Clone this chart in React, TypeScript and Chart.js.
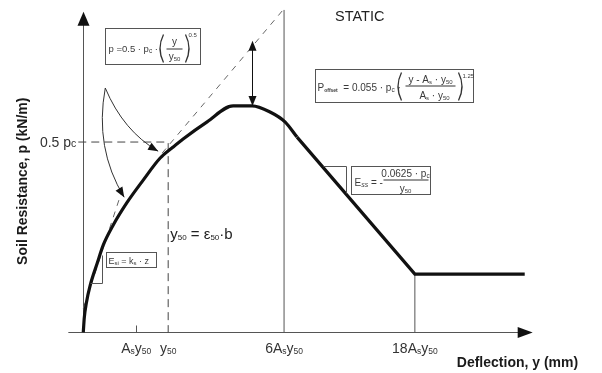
import React, { useEffect, useRef } from 'react';
import { Chart, registerables } from 'chart.js';

Chart.register(...registerables);

// Deflection is measured in multiples of y50, soil resistance in multiples of pc.
const CURVE_Y = [0, 0.012, 0.035, 0.082, 0.165, 0.235, 0.353, 0.518, 0.706, 0.906, 1.059, 1.176, 1.459, 1.765, 1.988, 2.2, 2.376, 2.518];
const CURVE_P = [0, 0.039, 0.076, 0.124, 0.182, 0.229, 0.282, 0.342, 0.4, 0.458, 0.487, 0.508, 0.553, 0.595, 0.595, 0.579, 0.553, 0.513];

// Linear softening branch and residual plateau
const TAIL_Y = [2.518, 3.906, 5.2];
const TAIL_P = [0.513, 0.153, 0.153];

// Parabola p = 0.5·pc·(y/y50)^0.5 continued as a dashed guide
const PARABOLA_Y = [0, 0.447, 0.7, 0.929, 2.353];
const PARABOLA_P = [0.063, 0.366, null, 0.471, 0.847];

const HALF_PC = 0.5;
const Y50 = 1;
const Y_6AS = 2.365;
const Y_18AS = 3.906;
const PARABOLA_TOP = 0.847;
const RESIDUAL_P = 0.153;
const OFFSET_AT = 1.988;
const OFFSET_FROM = 0.766;
const OFFSET_TO = 0.595;

const TICK_Y = [0.624, 1, 2.365, 3.906];
// even entries normal size, odd entries subscript
const TICK_LABELS = [
  ['A', 's', 'y', '50'],
  ['y', '50'],
  ['6A', 's', 'y', '50'],
  ['18A', 's', 'y', '50'],
];

const FONT = '"Liberation Sans", Arial, Helvetica, sans-serif';

type Part = { t: string; s: number; dy?: number; w?: string; st?: string };

function fontOf(p: Part) {
  return [p.st, p.w, `${p.s}px`, FONT].filter(Boolean).join(' ');
}

function rich(ctx: CanvasRenderingContext2D, x: number, y: number, parts: Part[], align: 'left' | 'center' | 'right' = 'left') {
  let total = 0;
  const widths = parts.map((p) => {
    ctx.font = fontOf(p);
    const w = ctx.measureText(p.t).width;
    total += w;
    return w;
  });
  let cx = align === 'center' ? x - total / 2 : align === 'right' ? x - total : x;
  ctx.textAlign = 'left';
  ctx.textBaseline = 'alphabetic';
  parts.forEach((p, i) => {
    ctx.font = fontOf(p);
    ctx.fillText(p.t, cx, y + (p.dy || 0));
    cx += widths[i];
  });
  return total;
}

function head(ctx: CanvasRenderingContext2D, tx: number, ty: number, fx: number, fy: number, len: number, half: number) {
  const a = Math.atan2(ty - fy, tx - fx);
  const bx = tx - Math.cos(a) * len;
  const by = ty - Math.sin(a) * len;
  ctx.beginPath();
  ctx.moveTo(tx, ty);
  ctx.lineTo(bx + Math.sin(a) * half, by - Math.cos(a) * half);
  ctx.lineTo(bx - Math.sin(a) * half, by + Math.cos(a) * half);
  ctx.closePath();
  ctx.fill();
}

function paren(ctx: CanvasRenderingContext2D, x: number, top: number, bottom: number, dir: number) {
  ctx.beginPath();
  ctx.moveTo(x, top);
  ctx.quadraticCurveTo(x + dir * 7, (top + bottom) / 2, x, bottom);
  ctx.stroke();
}

const diagram = {
  id: 'pyDiagram',
  beforeDatasetsDraw(chart: any) {
    const ctx: CanvasRenderingContext2D = chart.ctx;
    const X = (v: number) => chart.scales.x.getPixelForValue(v);
    const Y = (v: number) => chart.scales.y.getPixelForValue(v);
    const ox = Math.round(X(0)) + 0.5;
    const oy = Math.round(Y(0)) + 0.5;
    ctx.save();
    ctx.strokeStyle = '#555';
    ctx.fillStyle = '#111';
    ctx.lineWidth = 1;
    // vertical axis with arrow
    ctx.beginPath();
    ctx.moveTo(ox, oy);
    ctx.lineTo(ox, Y(0.842) + 4);
    ctx.stroke();
    head(ctx, ox, Y(0.842), ox, oy, 14, 6);
    // horizontal axis with arrow
    ctx.beginPath();
    ctx.moveTo(X(-0.176), oy);
    ctx.lineTo(X(5.294) - 4, oy);
    ctx.stroke();
    head(ctx, X(5.294), oy, ox, oy, 15, 5.5);
    // small tick at As·y50
    const tx = Math.round(X(TICK_Y[0])) + 0.5;
    ctx.beginPath();
    ctx.moveTo(tx, oy);
    ctx.lineTo(tx, oy - 7);
    ctx.stroke();
    ctx.restore();
  },
  afterDatasetsDraw(chart: any) {
    const ctx: CanvasRenderingContext2D = chart.ctx;
    const X = (v: number) => chart.scales.x.getPixelForValue(v);
    const Y = (v: number) => chart.scales.y.getPixelForValue(v);
    const area = chart.chartArea;
    ctx.save();

    // tick labels
    ctx.fillStyle = '#333';
    TICK_Y.forEach((v, i) => {
      const parts: Part[] = TICK_LABELS[i].map((t, k) => (k % 2 === 0 ? { t, s: 14 } : { t, s: 8.5, dy: 1 }));
      rich(ctx, X(v), Y(0) + 21, parts, 'center');
    });

    // 0.5 pc label
    rich(ctx, X(-0.082), Y(HALF_PC) + 5, [{ t: '0.5 p', s: 14 }, { t: 'c', s: 10.5 }], 'right');

    // axis titles
    ctx.fillStyle = '#1a1a1a';
    rich(ctx, X(4.4), Y(0) + 35, [{ t: 'Deflection, y (mm)', s: 14, w: 'bold' }]);
    ctx.save();
    ctx.translate(area.left - 41, Y(0.397));
    ctx.rotate(-Math.PI / 2);
    rich(ctx, 0, 0, [{ t: 'Soil Resistance, p (kN/m)', s: 14, w: 'bold' }], 'center');
    ctx.restore();

    // STATIC
    ctx.fillStyle = '#222';
    rich(ctx, X(2.965), Y(0.818), [{ t: 'STATIC', s: 14.5 }]);

    // y50 definition
    ctx.fillStyle = '#222';
    rich(ctx, X(1.024), Y(0.245), [
      { t: 'y', s: 15 },
      { t: '50', s: 8, dy: 1 },
      { t: ' = ε', s: 15 },
      { t: '50', s: 8, dy: 1 },
      { t: '·b', s: 15 },
    ]);

    // slope triangles
    ctx.strokeStyle = '#555';
    ctx.lineWidth = 1;
    const tri = (u1: number, u2: number, vTop: number, vBot: number, flatAtTop: boolean) => {
      const x1 = Math.round(X(u1)) + 0.5, x2 = Math.round(X(u2)) + 0.5;
      const y1 = Math.round(Y(vTop)) + 0.5, y2 = Math.round(Y(vBot)) + 0.5;
      ctx.beginPath();
      if (flatAtTop) {
        ctx.moveTo(x1, y1); ctx.lineTo(x2, y1); ctx.lineTo(x2, y2);
      } else {
        ctx.moveTo(x2, y1); ctx.lineTo(x2, y2); ctx.lineTo(x1, y2);
      }
      ctx.stroke();
    };
    tri(0.082, 0.224, 0.203, 0.129, false);
    tri(2.824, 3.094, 0.437, 0.366, true);

    // formula boxes
    const box = (u: number, v: number, w: number, h: number) => {
      const x = Math.round(X(u)) + 0.5, y = Math.round(Y(v)) + 0.5;
      ctx.strokeStyle = '#555';
      ctx.lineWidth = 1;
      ctx.strokeRect(x, y, w, h);
      return [x, y];
    };
    ctx.fillStyle = '#3a3a3a';

    // p = 0.5·pc·(y/y50)^0.5
    let [bx, by] = box(0.259, 0.8, 95, 36);
    rich(ctx, bx + 3, by + 23, [{ t: 'p =0.5 · p', s: 9.5 }, { t: 'c', s: 6.5, dy: 1 }, { t: ' ·', s: 9.5 }]);
    ctx.strokeStyle = '#333';
    ctx.lineWidth = 1.3;
    paren(ctx, bx + 58, by + 6, by + 34, -1);
    paren(ctx, bx + 80, by + 6, by + 34, 1);
    rich(ctx, bx + 69, by + 16, [{ t: 'y', s: 10 }], 'center');
    ctx.lineWidth = 1;
    ctx.beginPath(); ctx.moveTo(bx + 61, by + 20.5); ctx.lineTo(bx + 77, by + 20.5); ctx.stroke();
    rich(ctx, bx + 69, by + 31, [{ t: 'y', s: 10 }, { t: '50', s: 6, dy: 1 }], 'center');
    rich(ctx, bx + 83, by + 8, [{ t: '0.5', s: 6 }]);

    // P offset
    [bx, by] = box(2.729, 0.692, 158, 33);
    rich(ctx, bx + 2, by + 21, [
      { t: 'P', s: 10 }, { t: 'offset', s: 5, dy: 1, w: 'bold' },
      { t: '  = 0.055 · p', s: 10 }, { t: 'c', s: 6.5, dy: 1 }, { t: ' ·', s: 10 },
    ]);
    ctx.strokeStyle = '#333';
    ctx.lineWidth = 1.3;
    paren(ctx, bx + 86, by + 3, by + 31, -1);
    paren(ctx, bx + 143, by + 3, by + 31, 1);
    rich(ctx, bx + 115, by + 13, [{ t: 'y - A', s: 10 }, { t: 's', s: 6, dy: 1 }, { t: ' · y', s: 10 }, { t: '50', s: 6, dy: 1 }], 'center');
    ctx.lineWidth = 1;
    ctx.beginPath(); ctx.moveTo(bx + 90, by + 16.5); ctx.lineTo(bx + 140, by + 16.5); ctx.stroke();
    rich(ctx, bx + 119, by + 29, [{ t: 'A', s: 10 }, { t: 's', s: 6, dy: 1 }, { t: ' · y', s: 10 }, { t: '50', s: 6, dy: 1 }], 'center');
    rich(ctx, bx + 147, by + 8, [{ t: '1.25', s: 6 }]);

    // Ess
    [bx, by] = box(3.153, 0.437, 79, 28);
    rich(ctx, bx + 3, by + 19, [{ t: 'E', s: 10 }, { t: 'ss', s: 7, dy: 1, st: 'italic' }, { t: ' = -', s: 10 }]);
    rich(ctx, bx + 54, by + 10, [{ t: '0.0625 · p', s: 10 }, { t: 'c', s: 6.5, dy: 1 }], 'center');
    ctx.strokeStyle = '#333';
    ctx.beginPath(); ctx.moveTo(bx + 32, by + 13.5); ctx.lineTo(bx + 77, by + 13.5); ctx.stroke();
    rich(ctx, bx + 54, by + 25, [{ t: 'y', s: 10 }, { t: '50', s: 6, dy: 1 }], 'center');

    // Esi
    [bx, by] = box(0.271, 0.211, 50, 15);
    rich(ctx, bx + 2, by + 11, [
      { t: 'E', s: 9 }, { t: 'si', s: 6, dy: 1 }, { t: ' = k', s: 9 }, { t: 's', s: 6, dy: 1 }, { t: ' · z', s: 9 },
    ]);

    // offset double arrow
    ctx.strokeStyle = '#111';
    ctx.fillStyle = '#111';
    ctx.lineWidth = 1;
    const ax = Math.round(X(OFFSET_AT)) + 0.5;
    ctx.beginPath(); ctx.moveTo(ax, Y(OFFSET_FROM) + 6); ctx.lineTo(ax, Y(OFFSET_TO) - 6); ctx.stroke();
    head(ctx, ax, Y(OFFSET_FROM), ax, Y(OFFSET_TO), 10, 4);
    head(ctx, ax, Y(OFFSET_TO), ax, Y(OFFSET_FROM), 10, 4);

    // curved pointers to the curve
    const sx = X(0.259), sy = Y(0.642);
    const curved = (cu: number, cv: number, eu: number, ev: number) => {
      const cx = X(cu), cy = Y(cv), ex = X(eu), ey = Y(ev);
      ctx.strokeStyle = '#333';
      ctx.beginPath();
      ctx.moveTo(sx, sy);
      ctx.quadraticCurveTo(cx, cy, ex, ey);
      ctx.stroke();
      ctx.fillStyle = '#111';
      head(ctx, ex, ey, cx, cy, 10, 4);
    };
    curved(0.471, 0.529, 0.882, 0.476);
    curved(0.129, 0.484, 0.482, 0.355);

    ctx.restore();
  },
};

export default function App() {
  const ref = useRef<HTMLCanvasElement | null>(null);

  useEffect(() => {
    if (!ref.current) return;
    const pts = (xs: number[], ys: (number | null)[]) => xs.map((x, i) => ({ x, y: ys[i] }));
    const chart = new Chart(ref.current, {
      type: 'scatter',
      data: {
        datasets: [
          {
            data: pts(CURVE_Y, CURVE_P),
            showLine: true,
            borderColor: '#111',
            borderWidth: 3.2,
            pointRadius: 0,
            cubicInterpolationMode: 'monotone',
          },
          {
            data: pts(TAIL_Y, TAIL_P),
            showLine: true,
            borderColor: '#111',
            borderWidth: 3.2,
            pointRadius: 0,
            tension: 0,
          },
          {
            data: pts(PARABOLA_Y, PARABOLA_P),
            showLine: true,
            spanGaps: false,
            borderColor: '#666',
            borderWidth: 1,
            borderDash: [6, 6],
            pointRadius: 0,
          },
          {
            data: [
              { x: -0.059, y: HALF_PC },
              { x: Y50, y: HALF_PC },
              { x: Y50, y: 0 },
            ],
            showLine: true,
            borderColor: '#444',
            borderWidth: 1,
            borderDash: [8, 5],
            pointRadius: 0,
          },
          {
            data: [
              { x: Y_6AS, y: 0 },
              { x: Y_6AS, y: PARABOLA_TOP },
            ],
            showLine: true,
            borderColor: '#555',
            borderWidth: 1,
            pointRadius: 0,
          },
          {
            data: [
              { x: Y_18AS, y: 0 },
              { x: Y_18AS, y: RESIDUAL_P },
            ],
            showLine: true,
            borderColor: '#555',
            borderWidth: 1,
            pointRadius: 0,
          },
        ] as any,
      },
      options: {
        animation: false,
        responsive: false,
        devicePixelRatio: 1,
        events: [],
        layout: { padding: { left: 68, right: 62, top: 5, bottom: 33 } },
        plugins: { legend: { display: false }, tooltip: { enabled: false } },
        scales: {
          x: { type: 'linear', min: -0.18, max: 5.38, display: false },
          y: { type: 'linear', min: -0.02, max: 0.86, display: false },
        },
      },
      plugins: [diagram],
    });
    return () => chart.destroy();
  }, []);

  return (
    <div style={{ position: 'fixed', left: 0, top: 0, width: 602, height: 373, background: '#fff' }}>
      <canvas ref={ref} width={602} height={373} />
    </div>
  );
}
